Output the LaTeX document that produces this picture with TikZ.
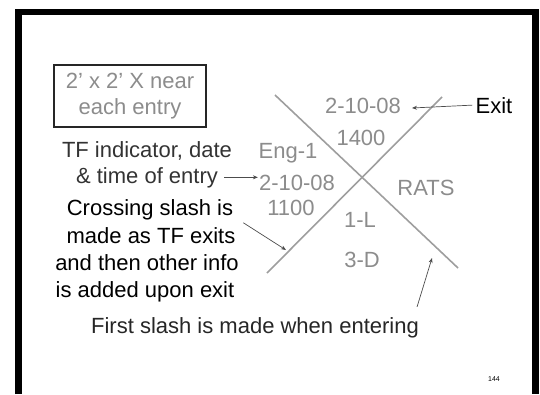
\documentclass[tikz,border=0pt]{standalone}
\usepackage{fontspec}
\setmainfont{Liberation Sans}
\usetikzlibrary{arrows.meta, positioning, calc}
\tikzset{
    slidetxt/.style = {anchor=base, inner sep=0pt, font=\fontsize{22}{26}\selectfont},
    chalktxt/.style = {slidetxt, text=black!45},
    notetxt/.style = {slidetxt, text=black},
    slash/.style = {draw=black!38, line width=1.6pt},
    pointer/.style = {draw=black!70, line width=0.7pt, -{Stealth[length=5pt,width=4pt]}}
}

\begin{document}
\begin{tikzpicture}[x=1pt, y=-1pt]
\useasboundingbox (0,0) rectangle (540,394);

% ---- slide frame (open at the bottom) ----
\draw[line width=6.5pt, miter limit=10] (18.5,394) -- (18.5,12) -- (535.5,12) -- (535.5,394);

% ---- size box (top-left) ----
\node[draw=black!85, line width=1.6pt, minimum width=152pt, minimum height=62pt,
      align=center, inner sep=0pt, text=black!45, font=\fontsize{22}{26}\selectfont]
      (sizebox) at (130,96) {2' x 2' X near\\each entry};

% ---- the X ----
\coordinate (firstA) at (275,95);
\coordinate (firstB) at (458,268);
\coordinate (crossA) at (267,273);
\coordinate (crossB) at (442,97);
\draw[slash] (firstA) -- (firstB);
\draw[slash] (crossA) -- (crossB);

% ---- markings in the X ----
\node[chalktxt] (exitdate) at (363,113) {2-10-08};
\node[chalktxt] (exittime) at (361,145) {1400};
\node[chalktxt] (unit) at (288,158) {Eng-1};
\node[chalktxt] (entrydate) at (297,190) {2-10-08};
\node[chalktxt] (entrytime) at (291,215) {1100};
\node[chalktxt] (needs) at (426,195) {RATS};
\node[chalktxt] (found1) at (360,227) {1-L};
\node[chalktxt] (found2) at (362,267) {3-D};

% ---- notes ----
\node[notetxt] (exit) at (494,113) {Exit};
\node[notetxt, text=black!80] (tf1) at (147,157) {TF indicator, date};
\node[notetxt, text=black!80] (tf2) at (147,183) {\& time of entry};
\node[notetxt] (cross1) at (150,215) {Crossing slash is};
\node[notetxt] (cross2) at (151,243) {made as TF exits};
\node[notetxt] (cross3) at (147,270) {and then other info};
\node[notetxt] (cross4) at (145,297) {is added upon exit};
\node[notetxt, text=black!85] (first) at (255,333) {First slash is made when entering};
\node[slidetxt, font=\fontsize{7}{8}\selectfont] (pagenum) at (494,381) {144};

% ---- pointers ----
\coordinate (exittip) at (412,108);
\coordinate (crossfrom) at ($(cross1.south east)+(10,3)$);
\coordinate (crosstip) at (286,250);
\coordinate (firstfrom) at ($(first.north east)+(-2,-10)$);
\coordinate (firsttip) at (432,258);
\draw[pointer] ([xshift=6pt]tf2.east) -- ([xshift=-1pt]tf2.east -| entrydate.west);
\draw[pointer] ([xshift=-3pt]exit.west) -- (exittip);
\draw[pointer] (crossfrom) -- (crosstip);
\draw[pointer] (firstfrom) -- (firsttip);

\end{tikzpicture}
\end{document}
